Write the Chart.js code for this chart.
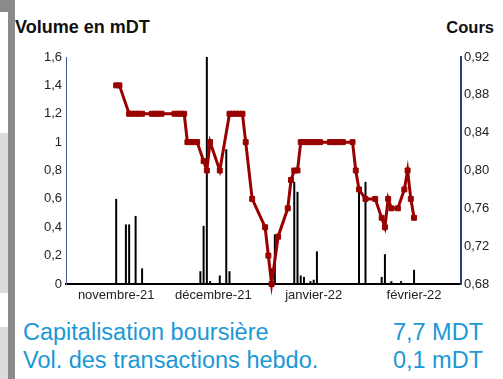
<!DOCTYPE html>
<html lang="fr">
<head>
<meta charset="utf-8">
<title>Volume et cours</title>
<script src="https://cdn.jsdelivr.net/npm/chart.js@4.4.1/dist/chart.umd.min.js"></script>
<style>
  html, body { margin: 0; padding: 0; background: #fff; }
  body { width: 503px; height: 379px; position: relative; overflow: hidden; font-family: "Liberation Sans", Arial, sans-serif; }
  .bord { position: absolute; left: 8px; top: 0; width: 7px; height: 379px; background: #8a8a8a; }
  .coin { position: absolute; left: 0; top: 0; width: 15px; height: 12px; background: #8a8a8a; }
  .pan { position: absolute; left: 0; width: 8px; background: #dcdcdc; }
  .titre { position: absolute; font-weight: bold; line-height: 20px; color: #111; }
  #wrap { position: absolute; left: 0; top: 0; width: 503px; height: 310px; }
  .ligne { position: absolute; left: 23px; right: 20px; font-size: 23.5px; line-height: 24px; color: #1b98d5; }
  .ligne span { position: absolute; right: 0; top: 0; }
</style>
</head>
<body>
<div class="bord"></div>
<div class="coin"></div>
<div class="pan" style="top:133px;height:160px"></div>
<div class="pan" style="top:327px;height:52px"></div>

<div class="titre" style="left:15px;top:17px;font-size:18px">Volume en mDT</div>
<div class="titre" style="right:9px;top:17px;font-size:16.5px">Cours</div>

<div id="wrap"><canvas id="graphe" width="503" height="310"></canvas></div>

<div class="ligne" style="top:320px">Capitalisation boursière<span>7,7 MDT</span></div>
<div class="ligne" style="top:348px">Vol. des transactions hebdo.<span>0,1 mDT</span></div>

<script>
// axe des dates : un jour par catégorie
const premierJour = Date.UTC(2021, 9, 17);
const nbJours = 122;

const tickDates = ['2021-11-01', '2021-12-01', '2022-01-01', '2022-02-01'];
const tickLabels = ['novembre-21', 'décembre-21', 'janvier-22', 'février-22'];

// cours de clôture (DT)
const coursDates = [
  '2021-11-01', '2021-11-02', '2021-11-05', '2021-11-06', '2021-11-07', '2021-11-08', '2021-11-09',
  '2021-11-12', '2021-11-13', '2021-11-14', '2021-11-15',
  '2021-11-19', '2021-11-20', '2021-11-21', '2021-11-22',
  '2021-11-23', '2021-11-24', '2021-11-25', '2021-11-26',
  '2021-11-28', '2021-11-29', '2021-11-30', '2021-12-03',
  '2021-12-06', '2021-12-07', '2021-12-08', '2021-12-09', '2021-12-10', '2021-12-11',
  '2021-12-13', '2021-12-17', '2021-12-18', '2021-12-19', '2021-12-21',
  '2021-12-24', '2021-12-25', '2021-12-26', '2021-12-27',
  '2021-12-28', '2021-12-29', '2021-12-30', '2021-12-31', '2022-01-01', '2022-01-02', '2022-01-03',
  '2022-01-06', '2022-01-07', '2022-01-08', '2022-01-09', '2022-01-10', '2022-01-13',
  '2022-01-14', '2022-01-15', '2022-01-17', '2022-01-20',
  '2022-01-22', '2022-01-23', '2022-01-24', '2022-01-25', '2022-01-27',
  '2022-01-29', '2022-01-30', '2022-01-31', '2022-02-01'
];
const coursValeurs = [
  0.89, 0.89, 0.86, 0.86, 0.86, 0.86, 0.86,
  0.86, 0.86, 0.86, 0.86,
  0.86, 0.86, 0.86, 0.86,
  0.83, 0.83, 0.83, 0.83,
  0.81, 0.80, 0.83, 0.80,
  0.86, 0.86, 0.86, 0.86, 0.86, 0.83,
  0.77, 0.74, 0.71, 0.68, 0.73,
  0.76, 0.79, 0.80, 0.80,
  0.83, 0.83, 0.83, 0.83, 0.83, 0.83, 0.83,
  0.83, 0.83, 0.83, 0.83, 0.83, 0.83,
  0.80, 0.78, 0.77, 0.77,
  0.75, 0.74, 0.77, 0.76, 0.76,
  0.78, 0.80, 0.77, 0.75
];

// volume échangé (mDT)
const volDates = [
  '2021-11-01', '2021-11-04', '2021-11-05', '2021-11-07', '2021-11-09',
  '2021-11-27', '2021-11-28', '2021-11-29', '2021-11-30', '2021-12-03', '2021-12-05', '2021-12-06',
  '2021-12-19', '2021-12-20', '2021-12-26', '2021-12-27', '2021-12-28', '2021-12-29',
  '2021-12-31', '2022-01-01', '2022-01-02',
  '2022-01-15', '2022-01-17', '2022-01-22', '2022-01-23', '2022-01-25', '2022-01-28', '2022-02-01'
];
const volValeurs = [
  0.60, 0.42, 0.42, 0.48, 0.11,
  0.09, 0.41, 1.60, 0.02, 0.06, 0.95, 0.09,
  0.11, 0.35, 0.72, 0.65, 0.06, 0.05,
  0.02, 0.03, 0.23,
  0.69, 0.72, 0.05, 0.21, 0.02, 0.02, 0.10
];

const jours = [];
for (let k = 0; k < nbJours; k++) {
  jours.push(new Date(premierJour + k * 86400000).toISOString().slice(0, 10));
}

function serie(dates, valeurs) {
  const out = jours.map(() => null);
  dates.forEach((d, i) => { out[jours.indexOf(d)] = valeurs[i]; });
  return out;
}

const police = { family: '"Liberation Sans", Arial, sans-serif', size: 13 };

new Chart(document.getElementById('graphe'), {
  type: 'bar',
  data: {
    labels: jours,
    datasets: [
      {
        type: 'line',
        label: 'Cours',
        data: serie(coursDates, coursValeurs),
        yAxisID: 'yCours',
        borderColor: '#990000',
        backgroundColor: '#990000',
        borderWidth: 3,
        pointStyle: 'rect',
        pointRadius: 3.5,
        pointBorderWidth: 1,
        spanGaps: true,
        tension: 0,
        clip: false
      },
      {
        label: 'Volume',
        data: serie(volDates, volValeurs),
        yAxisID: 'yVol',
        backgroundColor: '#000',
        barThickness: 2,
        inflateAmount: 0
      }
    ]
  },
  options: {
    responsive: false,
    animation: false,
    layout: { padding: { top: 57 } },
    plugins: { legend: { display: false }, tooltip: { enabled: false } },
    scales: {
      x: {
        grid: { display: false, drawTicks: false },
        border: { color: '#000', width: 2 },
        ticks: {
          autoSkip: false,
          maxRotation: 0,
          padding: 4,
          color: '#222',
          font: police,
          callback: (v, i) => {
            const k = tickDates.indexOf(jours[i]);
            return k < 0 ? '' : tickLabels[k];
          }
        },
        afterFit: s => { s.height = 26; }
      },
      yVol: {
        position: 'left',
        min: 0,
        max: 1.6,
        grid: { display: false, drawTicks: false },
        border: { color: '#4a5899', width: 1 },
        ticks: {
          stepSize: 0.2,
          padding: 4,
          color: '#222',
          font: police,
          callback: v => String(Math.round(v * 10) / 10).replace('.', ',')
        },
        afterFit: s => { s.width = 66; }
      },
      yCours: {
        position: 'right',
        min: 0.68,
        max: 0.92,
        grid: { display: false, drawTicks: false },
        border: { color: '#2e3d7c', width: 2 },
        ticks: {
          stepSize: 0.04,
          padding: 3,
          color: '#222',
          font: police,
          callback: v => v.toFixed(2).replace('.', ',')
        },
        afterFit: s => { s.width = 42; }
      }
    }
  }
});
</script>
</body>
</html>
